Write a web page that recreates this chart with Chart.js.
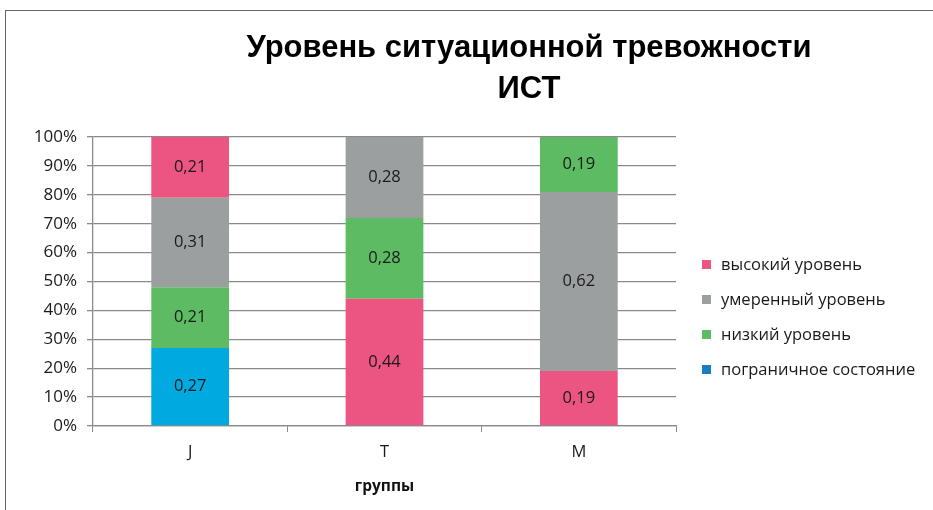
<!DOCTYPE html>
<html>
<head>
<meta charset="utf-8">
<script src="https://cdn.jsdelivr.net/npm/chart.js@4"></script>
<style>
  body { margin: 0; background: #fff; }
  .wrap { position: relative; width: 933px; height: 510px; overflow: hidden; }
  .frame { position: absolute; left: 5px; top: 10px; width: 1000px; height: 600px;
           border-top: 1px solid #666; border-left: 1px solid #666; pointer-events: none; }
</style>
</head>
<body>
<div class="wrap">
  <canvas class="js-chart" width="933" height="510"></canvas>
  <div class="frame"></div>
</div>
<script>
const ctx = document.querySelector('.js-chart').getContext('2d');

const categories = ['J', 'T', 'M'];
const seriesNames = ['высокий уровень', 'умеренный уровень', 'низкий уровень', 'пограничное состояние'];
const seriesColors = ['#EC5482', '#9C9FA0', '#5CBB63', '#00A9E0'];
const legendColors = ['#EC5482', '#9C9FA0', '#5CBB63', '#1B7DC4'];

// values per series, in category order J, T, M
const high = [0.21, 0.44, 0.19];
const moderate = [0.31, 0.28, 0.62];
const low = [0.21, 0.28, 0.19];
const borderline = [0.27, null, null];

// bottom-to-top stacking order for every group (series indices)
const stackOrder = [
    [3, 2, 1, 0], // J
    [0, 2, 1],    // T
    [0, 1, 2],    // M
];

const FONT = '"Open Sans", "DejaVu Sans", sans-serif';
const allSeries = [high, moderate, low, borderline];

function buildDatasets() {
    const levels = Math.max(...stackOrder.map(o => o.length));
    const datasets = [];
    for (let lvl = 0; lvl < levels; lvl++) {
        const data = [];
        const colors = [];
        categories.forEach((c, i) => {
            const s = stackOrder[i][lvl];
            if (s === undefined) {
                data.push(null);
                colors.push('transparent');
            } else {
                data.push(allSeries[s][i]);
                colors.push(seriesColors[s]);
            }
        });
        datasets.push({ data, backgroundColor: colors, borderWidth: 0, stack: 'a' });
    }
    return datasets;
}

const valueLabels = {
    id: 'valueLabels',
    afterDatasetsDraw(chart) {
        const c = chart.ctx;
        c.save();
        c.font = '16.5px ' + FONT;
        c.fillStyle = '#1a1a1a';
        c.textAlign = 'center';
        c.textBaseline = 'middle';
        chart.data.datasets.forEach((ds, di) => {
            chart.getDatasetMeta(di).data.forEach((el, i) => {
                const v = ds.data[i];
                if (v == null) return;
                c.fillText(v.toFixed(2).replace('.', ','), el.x, (el.y + el.base) / 2);
            });
        });
        c.restore();
    }
};

const titleAndLegend = {
    id: 'titleAndLegend',
    afterDraw(chart) {
        const c = chart.ctx;
        c.save();
        c.fillStyle = '#000';
        c.textAlign = 'center';
        c.textBaseline = 'middle';
        c.font = 'bold 31px "Liberation Sans Narrow", sans-serif';
        c.fillText('Уровень ситуационной тревожности', 529, 48);
        c.fillText('ИСТ', 529, 89);

        c.font = '16.5px ' + FONT;
        c.textAlign = 'left';
        seriesNames.forEach((name, i) => {
            const y = 265 + i * 35;
            c.fillStyle = legendColors[i];
            c.fillRect(702, y - 5, 9, 9);
            c.fillStyle = '#1a1a1a';
            c.fillText(name, 721, y);
        });
        c.restore();
    }
};

new Chart(ctx, {
    type: 'bar',
    data: { labels: categories, datasets: buildDatasets() },
    plugins: [valueLabels, titleAndLegend],
    options: {
        responsive: false,
        animation: false,
        layout: { padding: { left: 0, top: 137, right: 257, bottom: 0 } },
        plugins: { legend: { display: false }, title: { display: false }, tooltip: { enabled: false } },
        datasets: { bar: { categoryPercentage: 1, barPercentage: 0.4 } },
        scales: {
            x: {
                stacked: true,
                afterFit(scale) { scale.height = 84; },
                grid: { display: true, drawOnChartArea: false, offset: true, tickLength: 6, color: '#8a8a8a' },
                border: { color: '#8a8a8a', width: 1.3 },
                ticks: { color: '#1a1a1a', font: { size: 16.5, family: FONT }, padding: 10 },
                title: { display: true, text: 'группы', color: '#111', padding: { top: 0, bottom: 14 },
                         font: { size: 15.5, weight: 'bold', family: FONT } }
            },
            y: {
                stacked: true,
                min: 0,
                max: 1,
                afterFit(scale) { scale.width = 93; },
                grid: { color: '#8a8a8a', lineWidth: 1.3, tickLength: 6 },
                border: { color: '#8a8a8a', width: 1.3 },
                ticks: {
                    stepSize: 0.1,
                    color: '#1a1a1a',
                    padding: 10,
                    font: { size: 17, family: FONT },
                    callback(value) { return Math.round(value * 100) + '%'; }
                }
            }
        }
    }
});
</script>
</body>
</html>
